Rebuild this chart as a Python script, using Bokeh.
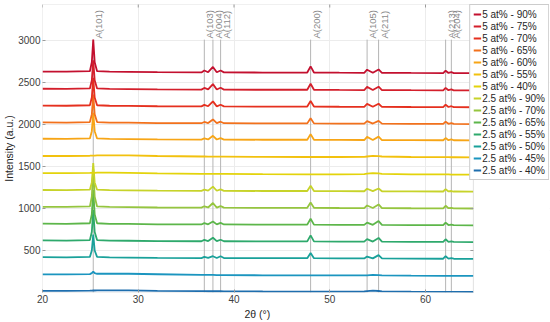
import math
from bokeh.plotting import figure
from bokeh.models import Legend, LegendItem, FixedTicker, ColumnDataSource, Range1d, BoxAnnotation, Title
from bokeh.core.properties import value
from bokeh.embed import file_html
from bokeh.resources import INLINE

# shared 2-theta sampling grid (degrees)
two_theta = [20, 22.5, 24.95, 25.15, 25.3, 25.45, 25.7, 27, 29, 32, 36.6, 36.9, 37.3, 37.8,
             38.2, 38.6, 38.95, 43, 47.65, 48.0, 48.35, 51, 53.6, 53.9, 54.5, 55.1, 55.45,
             58.5, 61.85, 62.1, 62.4, 62.7, 62.95, 65]

series_labels = ["5 at% - 90%", "5 at% - 75%", "5 at% - 70%", "5 at% - 65%", "5 at% - 60%",
                 "5 at% - 55%", "5 at% - 40%", "2.5 at% - 90%", "2.5 at% - 70%", "2.5 at% - 65%",
                 "2.5 at% - 55%", "2.5 at% - 50%", "2.5 at% - 45%", "2.5 at% - 40%"]

# vertical stacking offsets (a.u.)
offsets = [2630, 2425, 2225, 2025, 1830, 1625, 1420, 1220, 1020, 820, 620, 420, 215, 20]

s_5_90 = [0, -2, 4, 110, 380, 110, 4, -2, -4, -8, -10, 12, -8, 55, -9, 12, -10, -12, -12, 62, -12, -14, -15, 22, -14, 25, -15, -17, -18, 10, -17, -8, -18, -20]
s_5_75 = [0, -2, 4, 100, 340, 100, 4, -2, -4, -8, -10, 10, -8, 55, -9, 12, -10, -12, -12, 60, -12, -14, -15, 22, -14, 25, -15, -17, -18, 10, -17, -8, -18, -20]
s_5_70 = [0, -2, 4, 95, 330, 95, 4, -2, -4, -8, -10, 8, -8, 50, -9, 10, -10, -12, -12, 55, -12, -14, -15, 20, -14, 22, -15, -17, -18, 10, -17, -8, -18, -20]
s_5_65 = [0, -2, 4, 95, 330, 95, 4, -2, -4, -8, -10, 5, -8, 35, -9, 8, -10, -12, -12, 50, -12, -14, -15, 15, -14, 18, -15, -17, -18, 8, -17, -8, -18, -20]
s_5_60 = [0, -2, 4, 90, 310, 90, 4, -2, -4, -8, -10, 5, -8, 35, -9, 8, -10, -12, -12, 55, -12, -14, -15, 22, -14, 25, -15, -17, -18, 8, -17, -8, -18, -20]
s_5_55 = [0, 0, 3, 4, 5, 5, 6, 8, 6, 0, -6, -6, -7, -7, -8, -8, -8, -10, -12, -12, -12, -12, -10, -6, 0, -2, -6, -12, -14, -14, -14, -15, -15, -16]
s_5_40 = [0, 0, 3, 4, 5, 5, 6, 7, 5, -2, -8, -8, -8, -9, -9, -9, -9, -11, -13, -13, -13, -13, -10, -6, 0, -3, -7, -13, -15, -15, -15, -16, -16, -17]
s_25_90 = [0, -2, 4, 90, 320, 90, 4, -2, -4, -8, -10, 4, -8, 40, -9, 8, -10, -12, -12, 50, -12, -14, -15, 15, -14, 18, -15, -17, -18, 10, -17, -12, -18, -20]
s_25_70 = [0, -2, 4, 120, 450, 120, 4, -2, -4, -8, -10, 6, -8, 45, -9, 8, -10, -12, -12, 50, -12, -14, -15, 15, -14, 28, -15, -17, -18, 12, -17, -12, -18, -20]
s_25_65 = [0, -2, 4, 110, 400, 110, 4, -2, -4, -8, -10, 6, -8, 25, -9, 8, -10, -12, -12, 58, -12, -14, -15, 12, -14, 30, -15, -17, -18, 12, -17, -12, -18, -20]
s_25_55 = [0, -2, 4, 100, 360, 100, 4, -2, -4, -8, -10, 6, -8, 32, -9, 8, -10, -12, -12, 60, -12, -14, -15, 15, -14, 30, -15, -17, -18, 14, -17, -12, -18, -20]
s_25_50 = [0, -2, 4, 80, 270, 80, 4, -2, -4, -8, -10, 4, -8, 12, -9, 12, -10, -12, -12, 50, -12, -14, -15, 8, -14, 25, -15, -17, -18, 12, -17, -12, -18, -20]
s_25_45 = [0, 0, 4, 15, 35, 15, 8, 10, 8, 2, -6, -6, -6, -6, -7, -7, -8, -10, -12, -12, -12, -12, -12, -10, -6, -8, -10, -14, -16, -16, -16, -16, -17, -18]
s_25_40 = [0, 0, 2, 3, 4, 4, 5, 6, 5, 0, -4, -4, -5, -5, -5, -5, -6, -8, -10, -10, -10, -10, -8, -4, 2, -2, -6, -10, -12, -12, -12, -13, -13, -14]

profiles = [s_5_90, s_5_75, s_5_70, s_5_65, s_5_60, s_5_55, s_5_40,
            s_25_90, s_25_70, s_25_65, s_25_55, s_25_50, s_25_45, s_25_40]

colors = ["#C3102F", "#D41F2B", "#E5301F", "#F2711C", "#F7A516", "#F2C10E", "#E3D30B",
          "#C7D32A", "#95C53F", "#5DB64A", "#2EA96C", "#19A19A", "#1B95BF", "#1E6EAE"]

peak_pos = [25.3, 36.9, 37.8, 38.6, 48.0, 53.9, 55.1, 62.1, 62.7]
peak_names = ["A(101)", "A(103)", "A(004)", "A(112)", "A(200)", "A(105)", "A(211)", "A(213)", "A(204)"]
peak_line_top = 3010
peak_label_y = 3022

x_min, x_max = 20, 65
y_min, y_max = 0, 3428
x_ticks = [20, 30, 40, 50, 60]
y_ticks = [500, 1000, 1500, 2000, 2500, 3000]

FONT = "Liberation Sans"
FRAME = "#9a9a9a"

# the frame is widened past 65 deg to host the legend at the right of the data box
p = figure(width=550, height=322, output_backend="svg", toolbar_location=None,
           x_range=Range1d(x_min, 72.95), y_range=Range1d(y_min, y_max),
           min_border_left=42, min_border_right=1, min_border_top=4, min_border_bottom=30)

p.yaxis.axis_label = "Intensity (a.u.)"
for ax in (p.xaxis[0], p.yaxis[0]):
    ax.axis_label_text_font = FONT
    ax.axis_label_text_font_size = "10.5px"
    ax.axis_label_text_font_style = "normal"
    ax.axis_label_text_color = "#262626"
    ax.axis_label_standoff = 0
    ax.major_label_text_font = FONT
    ax.major_label_text_font_size = "10px"
    ax.major_label_text_color = "#404040"
    ax.major_label_standoff = 2
    ax.major_tick_in = 3
    ax.major_tick_out = 0
    ax.minor_tick_in = 0
    ax.minor_tick_out = 0
    ax.axis_line_color = None
    ax.major_tick_line_color = FRAME
p.xaxis.ticker = FixedTicker(ticks=x_ticks)
p.yaxis.ticker = FixedTicker(ticks=y_ticks)

# x axis title, centred under the 20-65 deg data box
p.add_layout(Title(text="2θ (°)", align="left", offset=202, standoff=0,
                   text_font=FONT, text_font_size="10.5px", text_font_style="normal",
                   text_color="#262626"), "below")

p.outline_line_color = None
p.xgrid.grid_line_color = "#ececec"
p.ygrid.grid_line_color = "#ececec"
p.xgrid.ticker = FixedTicker(ticks=x_ticks)
p.ygrid.ticker = FixedTicker(ticks=y_ticks)

# peak reference lines and labels
pk = ColumnDataSource(dict(x=peak_pos, y0=[y_min] * len(peak_pos), y1=[peak_line_top] * len(peak_pos),
                           ty=[peak_label_y] * len(peak_pos), name=peak_names))
p.segment(x0="x", y0="y0", x1="x", y1="y1", source=pk, line_color="#b5b5b5", line_width=1)
p.text(x="x", y="ty", text="name", source=pk, angle=math.pi / 2, text_align="left",
       text_baseline="top", text_font=value(FONT), text_font_size="9.5px", text_color="#8a8a8a")

renderers = {}
for lab, off, prof, col in reversed(list(zip(series_labels, offsets, profiles, colors))):
    ys = [off + v for v in prof]
    r = p.line(two_theta, ys, line_color=col, line_width=1.8)
    renderers[lab] = r

# inward ticks on the top and right sides of the data box (box-style axes)
p.scatter(x=x_ticks, y=[y_max] * len(x_ticks), marker="dash", size=6, angle=math.pi / 2,
          line_color=FRAME, line_width=1)
p.scatter(x=[x_max] * len(y_ticks), y=y_ticks, marker="dash", size=6,
          line_color=FRAME, line_width=1)

# blank out the area right of the data box, then draw the data box border
p.add_layout(BoxAnnotation(left=x_max, fill_color="white", fill_alpha=1.0, line_color=None))
p.add_layout(BoxAnnotation(left=x_min, right=x_max, fill_alpha=0.0, line_color=FRAME, line_width=1))

items = [LegendItem(label=lab, renderers=[renderers[lab]]) for lab in series_labels]
legend = Legend(items=items, location="top_right", margin=0, padding=3, spacing=0,
                label_height=12, glyph_height=12, glyph_width=8, label_standoff=1,
                label_text_font=FONT, label_text_font_size="10px", label_text_color="#262626",
                border_line_color=FRAME, background_fill_color="white",
                background_fill_alpha=1.0)
p.add_layout(legend, "center")

open("out.html", "w").write(file_html(p, INLINE))
